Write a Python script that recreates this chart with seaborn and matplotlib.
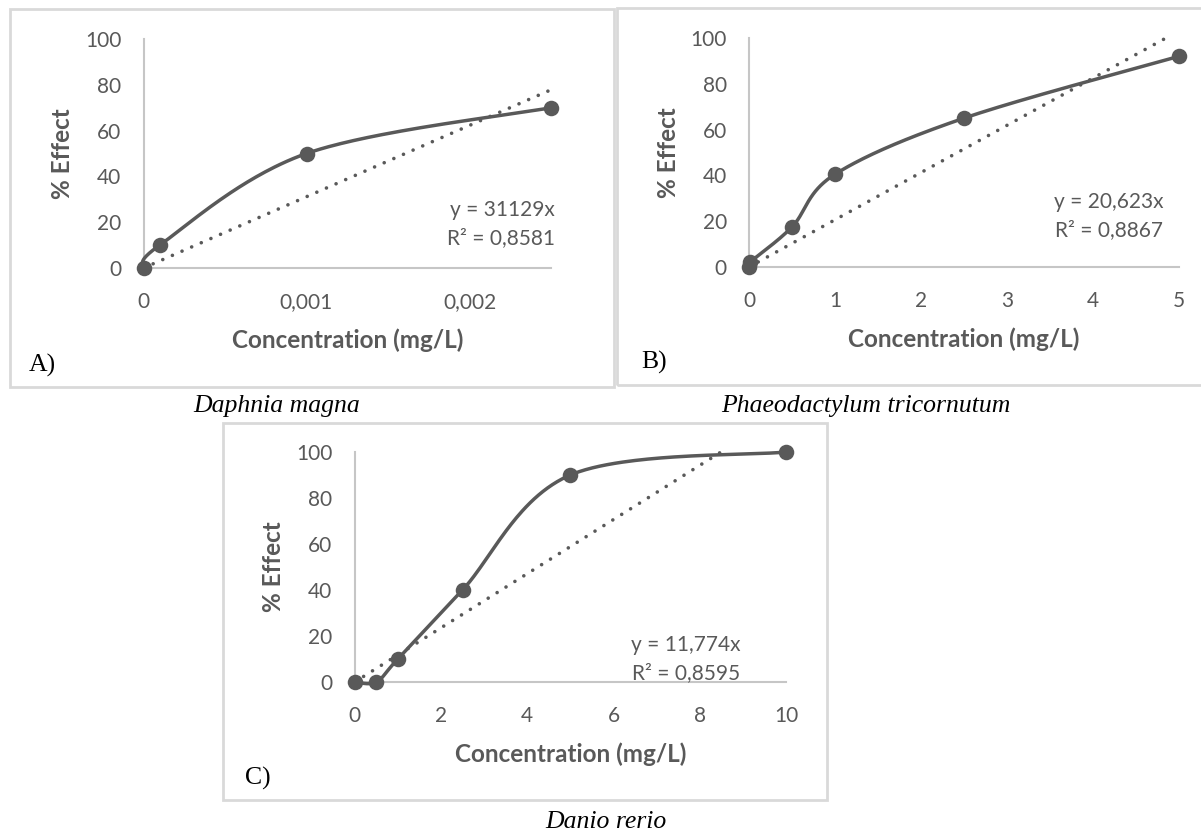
import numpy as np
import pandas as pd
import matplotlib
matplotlib.use("Agg")
import matplotlib.pyplot as plt
from matplotlib.patches import Rectangle
import seaborn as sns

sns.set_theme(style="white")
plt.rcParams['font.family'] = ['Lato', 'DejaVu Sans']

# ---------------- data ----------------
A_conc = [0, 0.0001, 0.001, 0.0025]
A_effect = [0, 10, 50, 70]
A_slope = 31129
A_eq = ["y = 31129x", "R² = 0,8581"]
A_xticks = [0, 0.001, 0.002]
A_xticklabels = ["0", "0,001", "0,002"]

B_conc = [0, 0.01, 0.5, 1, 2.5, 5]
B_effect = [0, 2, 17.5, 40.5, 65, 92]
B_slope = 20.623
B_eq = ["y = 20,623x", "R² = 0,8867"]
B_xticks = [0, 1, 2, 3, 4, 5]
B_xticklabels = ["0", "1", "2", "3", "4", "5"]

C_conc = [0, 0.5, 1, 2.5, 5, 10]
C_effect = [0, 0, 10, 40, 90, 100]
C_slope = 11.774
C_eq = ["y = 11,774x", "R² = 0,8595"]
C_xticks = [0, 2, 4, 6, 8, 10]
C_xticklabels = ["0", "2", "4", "6", "8", "10"]

yticks = [0, 20, 40, 60, 80, 100]
ytick_labels = ["0", "20", "40", "60", "80", "100"]
xlabel = "Concentration (mg/L)"
ylabel = "% Effect"
panel_labels = ["A)", "B)", "C)"]
species = ["Daphnia magna", "Phaeodactylum tricornutum", "Danio rerio"]

# ---------------- style ----------------
FIG_W, FIG_H = 1201, 833
DARK = "#595959"
AXIS = "#c6c6c6"
FRAME = "#d9d9d9"

fig = plt.figure(figsize=(FIG_W / 100, FIG_H / 100), dpi=100)
fig.patch.set_facecolor("white")


def fx(px):
    return px / FIG_W


def fy(py):
    return 1 - py / FIG_H


def frame(l, t, r, b):
    fig.patches.append(Rectangle((fx(l), fy(b)), (r - l) / FIG_W, (b - t) / FIG_H,
                                 transform=fig.transFigure, fill=False,
                                 edgecolor=FRAME, linewidth=2.0, zorder=0))


def smooth_curve(xs, ys, xlim, ylim, w, h, n=60):
    """Excel-like smoothed line (Catmull-Rom Bezier computed in pixel space)."""
    px = (np.asarray(xs, float) - xlim[0]) / (xlim[1] - xlim[0]) * w
    py = (np.asarray(ys, float) - ylim[0]) / (ylim[1] - ylim[0]) * h
    P = np.column_stack([px, py])
    m = len(P)
    pts = [P[:1]]
    t = np.linspace(0, 1, n)[1:, None]
    for i in range(m - 1):
        p0 = P[max(i - 1, 0)]
        p1 = P[i]
        p2 = P[i + 1]
        p3 = P[min(i + 2, m - 1)]
        c1 = p1 + (p2 - p0) / 6
        c2 = p2 - (p3 - p1) / 6
        seg = (1 - t) ** 3 * p1 + 3 * (1 - t) ** 2 * t * c1 + 3 * (1 - t) * t ** 2 * c2 + t ** 3 * p2
        pts.append(seg)
    S = np.vstack(pts)
    sx = S[:, 0] / w * (xlim[1] - xlim[0]) + xlim[0]
    sy = S[:, 1] / h * (ylim[1] - ylim[0]) + ylim[0]
    return sx, sy


def panel(box, conc, effect, slope, eq, xticks, xticklabels, xmax,
          eq_right_px, eq_y, plabel, plabel_pos, caption, caption_pos):
    l, t, r, b = box
    w, h = r - l, b - t
    ax = fig.add_axes([fx(l), fy(b), w / FIG_W, h / FIG_H])
    ax.set_facecolor("none")
    xlim = (0, xmax)
    ylim = (0, 100)

    # trendline (linear through origin), stopped at the top of the plot area
    x_end = min(xmax, 101 / slope)
    trend = pd.DataFrame({"x": [0, x_end], "y": [0, slope * x_end]})
    sns.lineplot(data=trend, x="x", y="y", ax=ax, color=DARK, linewidth=2.6,
                 linestyle=(0, (0.01, 2.9)), dash_capstyle="round", zorder=2,
                 clip_on=False)

    # smoothed data line
    sx, sy = smooth_curve(conc, effect, xlim, ylim, w, h)
    sns.lineplot(x=sx, y=sy, sort=False, estimator=None, ax=ax, color=DARK,
                 linewidth=2.5, zorder=3, clip_on=False)

    # markers
    df = pd.DataFrame({"conc": conc, "effect": effect})
    sns.scatterplot(data=df, x="conc", y="effect", ax=ax, color=DARK, s=125,
                    edgecolor=DARK, linewidth=0, zorder=4, clip_on=False)

    ax.set_xlim(*xlim)
    ax.set_ylim(*ylim)
    ax.set_xticks(xticks)
    ax.set_xticklabels(xticklabels)
    ax.set_yticks(yticks)
    ax.set_yticklabels(ytick_labels)
    ax.tick_params(axis="both", length=0, labelsize=15, labelcolor=DARK)
    ax.tick_params(axis="y", pad=16)
    ax.tick_params(axis="x", pad=17)
    for side in ["top", "right"]:
        ax.spines[side].set_visible(False)
    for side in ["left", "bottom"]:
        ax.spines[side].set_color(AXIS)
        ax.spines[side].set_linewidth(1.5)
    ax.grid(False)

    ax.set_xlabel(xlabel, fontsize=17.5, fontweight="bold", color=DARK, va="center")
    ax.xaxis.set_label_coords(0.5, -72 / h)
    ax.set_ylabel(ylabel, fontsize=17.5, fontweight="bold", color=DARK, va="center")
    ax.yaxis.set_label_coords(-81 / w, 0.5)

    # equation text
    ax.text(1 + eq_right_px / w, eq_y[0], eq[0], transform=ax.transAxes, ha="right",
            va="center", fontsize=15, color=DARK)
    ax.text(1 + eq_right_px / w, eq_y[1], eq[1], transform=ax.transAxes, ha="right",
            va="center", fontsize=15, color=DARK)

    fig.text(fx(plabel_pos[0]), fy(plabel_pos[1]), plabel, ha="left", va="center",
             fontsize=18.5, family="Liberation Serif", color="black")
    fig.text(fx(caption_pos[0]), fy(caption_pos[1]), caption, ha="center", va="center",
             fontsize=18.5, family="Liberation Serif", style="italic", color="black")
    return ax


# frames
frame(9.5, 9, 614, 387)
frame(616.5, 8, 1210, 385)
frame(223, 423, 827, 800)

panel((143.5, 39, 551, 268), A_conc, A_effect, A_slope, A_eq, A_xticks, A_xticklabels,
      0.0025, 4, (0.253, 0.131), panel_labels[0], (29, 365), species[0], (277, 406))
panel((749, 38, 1179, 267), B_conc, B_effect, B_slope, B_eq, B_xticks, B_xticklabels,
      5, -16, (0.284, 0.162), panel_labels[1], (641, 362), species[1], (866, 406))
panel((354.7, 452, 786, 682), C_conc, C_effect, C_slope, C_eq, C_xticks, C_xticklabels,
      10, -45.5, (0.161, 0.039), panel_labels[2], (245, 778), species[2], (606, 822))

fig.savefig("out.png", dpi=100, facecolor="white")
